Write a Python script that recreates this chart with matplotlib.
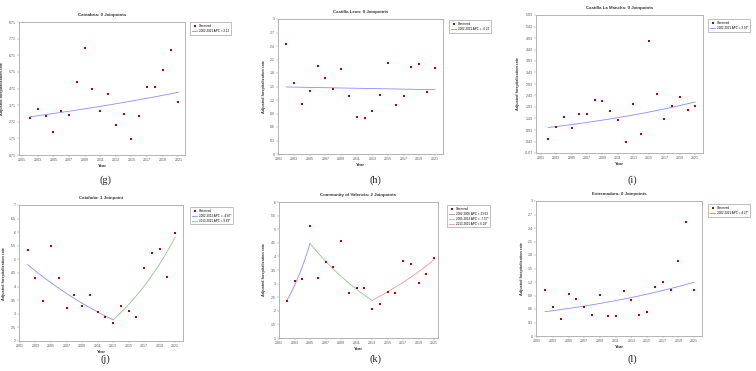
import numpy as np
import matplotlib
matplotlib.use("Agg")
import matplotlib.pyplot as plt

# ============================================================
# DATA
# ============================================================

years = list(range(2002, 2022))

cantabria = [2.93, 3.46, 3.05, 2.11, 3.34, 3.11, 5.12, 7.12, 4.70, 3.36,
             4.36, 2.51, 3.19, 1.69, 3.05, 4.78, 4.78, 5.80, 7.00, 3.90]
castilla_leon = [2.44, 1.57, 1.12, 1.41, 1.95, 1.69, 1.44, 1.88, 1.29, 0.82,
                 0.79, 0.95, 1.32, 2.03, 1.09, 1.28, 1.94, 2.00, 1.37, 1.92]
castilla_mancha = [0.55, 1.04, 1.49, 1.00, 1.63, 1.63, 2.23, 2.20, 1.74, 1.37,
                   0.42, 2.08, 0.74, 4.79, 2.51, 1.41, 1.96, 2.37, 1.80, 1.97]
cataluna = [5.34, 4.32, 3.47, 5.49, 4.31, 3.22, 3.68, 3.27, 3.68, 3.08,
            2.88, 2.68, 3.30, 3.11, 2.90, 4.68, 5.22, 5.39, 4.35, 5.97]
valencia = [2.35, 3.11, 3.18, 5.13, 3.21, 3.78, 3.60, 4.58, 2.65, 2.85,
            2.85, 2.08, 2.25, 2.70, 2.64, 3.82, 3.73, 3.01, 3.37, 3.93]
extremadura = [1.03, 0.65, 0.38, 0.93, 0.82, 0.64, 0.46, 0.91, 0.44, 0.44,
               0.99, 0.81, 0.46, 0.54, 1.10, 1.20, 1.02, 1.67, 2.53, 1.03]

titles = [
    "Cantabria: 0 Joinpoints",
    "Castilla Leon: 0 Joinpoints",
    "Castilla La Mancha: 0 Joinpoints",
    "Cataluña: 1 Joinpoint",
    "Community of Valencia: 2 Joinpoints",
    "Extremadura: 0 Joinpoints",
]
panel_labels = ["(g)", "(h)", "(i)", "(j)", "(k)", "(l)"]

# joinpoint segments: (start year, end year, APC %)
seg_cantabria = [(2002, 2021, 2.12)]
seg_castilla_leon = [(2002, 2021, -0.22)]
seg_castilla_mancha = [(2002, 2021, 3.90)]
seg_cataluna = [(2002, 2013, -4.87), (2013, 2021, 9.69)]
seg_valencia = [(2002, 2005, 23.63), (2005, 2013, -7.57), (2013, 2021, 6.29)]
seg_extremadura = [(2002, 2021, 4.27)]

# modelled value at the first year
fit_start = [3.01, 1.49, 1.04, 4.81, 2.37, 0.54]

# APC labels as printed in the legends
apc_labels = [
    ["2002-2021 APC = 2.12"],
    ["2002-2021 APC = -0.22"],
    ["2002-2021 APC = 3.90*"],
    ["2002-2013 APC = -4.87*", "2013-2021 APC = 9.69*"],
    ["2002-2005 APC = 23.63", "2005-2013 APC = -7.57*", "2013-2021 APC = 6.29*"],
    ["2002-2021 APC = 4.27*"],
]

y_ticks = [
    [0.71 + k for k in range(9)],
    [0.3 * k for k in range(11)],
    [-0.07 + 0.5 * k for k in range(13)],
    [2 + 0.5 * k for k in range(11)],
    [1 + 0.5 * k for k in range(11)],
    [0.3 * k for k in range(11)],
]
y_tick_labels = [
    ["0.71", "1.71", "2.71", "3.71", "4.71", "5.71", "6.71", "7.71", "8.71"],
    ["0", "0.3", "0.6", "0.9", "1.2", "1.5", "1.8", "2.1", "2.4", "2.7", "3"],
    ["-0.07", "0.43", "0.93", "1.43", "1.93", "2.43", "2.93", "3.43", "3.93",
     "4.43", "4.93", "5.43", "5.93"],
    ["2", "2.5", "3", "3.5", "4", "4.5", "5", "5.5", "6", "6.5", "7"],
    ["1", "1.5", "2", "2.5", "3", "3.5", "4", "4.5", "5", "5.5", "6"],
    ["0", "0.3", "0.6", "0.9", "1.2", "1.5", "1.8", "2.1", "2.4", "2.7", "3"],
]
x_ticks = list(range(2001, 2022, 2))

# ============================================================
# LAYOUT
# ============================================================

W, H = 756, 371

# axes boxes in pixels: left, right, top, bottom
axes_px = [
    (19, 185, 22, 155),
    (278, 443, 19, 154),
    (536, 703, 15, 153),
    (19, 183, 205, 341),
    (279, 438, 202, 338),
    (536, 702, 201, 336),
]
xlims = [
    (2000.6, 2021.85),
    (2000.93, 2022.03),
    (2000.4, 2022.0),
    (2000.88, 2022.0),
    (2001.05, 2021.5),
    (2000.85, 2022.0),
]
legend_px = [(190, 22), (449, 20), (708, 19), (190, 207), (447, 205), (708, 204)]
label_px = [(105, 180), (375, 180), (632, 180), (105, 359), (375, 359), (632, 359)]

series = [cantabria, castilla_leon, castilla_mancha, cataluna, valencia, extremadura]
segments = [seg_cantabria, seg_castilla_leon, seg_castilla_mancha,
            seg_cataluna, seg_valencia, seg_extremadura]
seg_colors = ["#8c8cff", "#8cc88c", "#ff9090"]

plt.rcParams['font.family'] = ['Liberation Sans', 'DejaVu Sans']

fig = plt.figure(figsize=(W / 100, H / 100), dpi=100)

for i in range(6):

    l, r, t, b = axes_px[i]
    ax = fig.add_axes([l / W, 1 - b / H, (r - l) / W, (b - t) / H])

    ax.scatter(years, series[i], s=2.5, marker='s', color="#c00000",
               linewidths=0, zorder=3, label="Observed")

    # fitted joinpoint model from the APC of each segment
    y0 = fit_start[i]
    for k, (s, e, apc) in enumerate(segments[i]):
        tt = np.linspace(s, e, 60)
        yy = y0 * (1 + apc / 100) ** (tt - s)
        ax.plot(tt, yy, color=seg_colors[k], lw=0.6, label=apc_labels[i][k])
        y0 = yy[-1]

    ax.set_xlim(*xlims[i])
    ax.set_ylim(y_ticks[i][0], y_ticks[i][-1])
    ax.set_xticks(x_ticks)
    ax.set_xticklabels([str(x) for x in x_ticks], fontsize=2.6, color="#555555")
    ax.set_yticks(y_ticks[i])
    ax.set_yticklabels(y_tick_labels[i], fontsize=2.6, color="#555555")
    ax.tick_params(length=1.2, width=0.3, pad=1.2, colors="#888888",
                   labelcolor="#555555")

    for sp in ax.spines.values():
        sp.set_color("#a8a8a8")
        sp.set_linewidth(0.6)

    ax.set_title(titles[i], fontsize=3.2, fontweight='bold', color="#333333",
                 pad=4)
    ax.set_xlabel("Year", fontsize=3.2, fontweight='bold', color="#333333",
                  labelpad=1.5)
    ax.set_ylabel("Adjusted hospitalization rate", fontsize=2.8,
                  fontweight='bold', color="#333333", labelpad=3)

    lx, ly = legend_px[i]
    leg = ax.legend(loc='upper left',
                    bbox_to_anchor=(lx / W, 1 - ly / H),
                    bbox_transform=fig.transFigure,
                    fontsize=2.2, frameon=True, fancybox=False,
                    borderpad=0.6, handlelength=1.8, handletextpad=0.5,
                    labelspacing=0.3, markerscale=1.0, borderaxespad=0)
    leg.get_frame().set_edgecolor("#a0a0a0")
    leg.get_frame().set_linewidth(0.6)

    px, py = label_px[i]
    fig.text(px / W, 1 - py / H, panel_labels[i], ha='center', va='center',
             fontsize=7.5, family='Liberation Serif', color="#222222")

fig.savefig("out.png", dpi=100, facecolor="white")
